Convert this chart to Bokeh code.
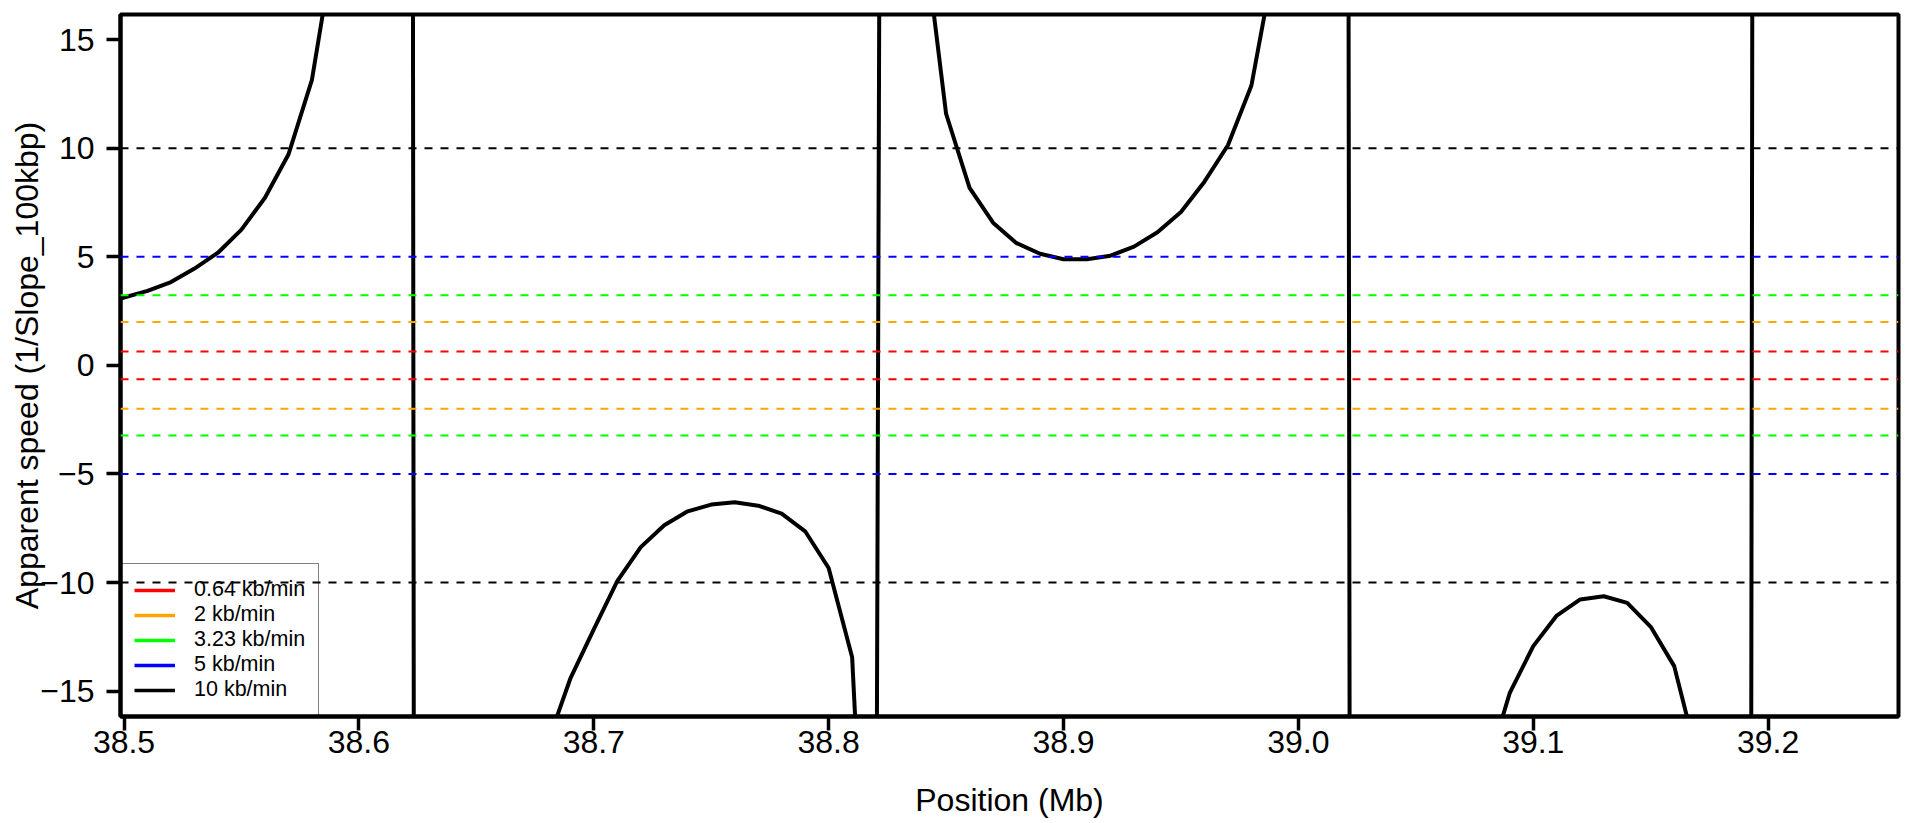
import math
from bokeh.plotting import figure
from bokeh.models import Span, FixedTicker, Range1d
from bokeh.embed import file_html
from bokeh.resources import INLINE

# ---- data ----
position_mb = [38.4985, 38.51, 38.52, 38.53, 38.54, 38.55, 38.56, 38.57, 38.58, 38.59,
               38.60, 38.61, 38.62, 38.63, 38.64, 38.65, 38.66, 38.67, 38.68, 38.69,
               38.70, 38.71, 38.72, 38.73, 38.74, 38.75, 38.76, 38.77, 38.78, 38.79,
               38.80, 38.81, 38.82, 38.83, 38.84, 38.85, 38.86, 38.87, 38.88, 38.89,
               38.90, 38.91, 38.92, 38.93, 38.94, 38.95, 38.96, 38.97, 38.98, 38.99,
               39.00, 39.01, 39.02, 39.03, 39.04, 39.05, 39.06, 39.07, 39.08, 39.09,
               39.10, 39.11, 39.12, 39.13, 39.14, 39.15, 39.16, 39.17, 39.18, 39.19,
               39.20, 39.21, 39.22, 39.23, 39.24, 39.25]
apparent_speed = [3.08, 3.43, 3.84, 4.46, 5.19, 6.25, 7.72, 9.71, 13.15, 19.7,
                  35.0, 90.0, 300.0, -640.0, -150.0, -70.0, -40.0, -24.0, -17.5, -14.43,
                  -12.16, -9.94, -8.37, -7.36, -6.72, -6.41, -6.30, -6.46, -6.83, -7.64,
                  -9.33, -13.44, -35.0, 300.0, 20.4, 11.59, 8.18, 6.57, 5.63, 5.14,
                  4.89, 4.89, 5.05, 5.47, 6.13, 7.06, 8.46, 10.14, 12.89, 18.73,
                  30.0, 60.0, 120.0, -640.0, -120.0, -60.0, -38.0, -26.0, -18.68, -15.08,
                  -12.93, -11.52, -10.78, -10.63, -10.94, -12.04, -13.85, -18.13, -60.0, -230.0,
                  530.0, 120.0, 60.0, 40.0, 30.0, 25.0]

speed_levels = [0.64, 2, 3.23, 5, 10]
level_colors = ["#FF0000", "#FFA500", "#00FF00", "#0000FF", "#000000"]
level_labels = ["0.64 kb/min", "2 kb/min", "3.23 kb/min", "5 kb/min", "10 kb/min"]

x_ticks = [38.5, 38.6, 38.7, 38.8, 38.9, 39.0, 39.1, 39.2]
x_tick_labels = ["38.5", "38.6", "38.7", "38.8", "38.9", "39.0", "39.1", "39.2"]
y_ticks = [-15, -10, -5, 0, 5, 10, 15]
y_tick_labels = ["\u221215", "\u221210", "\u22125", "0", "5", "10", "15"]

x_limits = (38.4985, 39.2555)
y_limits = (-16.17, 16.16)

FONT = "Liberation Sans"

p = figure(width=1910, height=823, output_backend="svg", toolbar_location=None,
           x_range=Range1d(*x_limits), y_range=Range1d(*y_limits),
           min_border_left=120, min_border_right=12, min_border_top=14,
           min_border_bottom=107)
p.background_fill_color = "white"
p.border_fill_color = "white"
p.outline_line_color = "black"
p.outline_line_width = 4
p.xgrid.visible = False
p.ygrid.visible = False

# dashed reference levels (positive and negative)
for v, c in zip(speed_levels, level_colors):
    for s in (1, -1):
        p.add_layout(Span(location=s * v, dimension="width", line_color=c,
                          line_width=2, line_dash="8 8"))

# curve
p.line(position_mb, apparent_speed, line_color="black", line_width=4)

# legend entries (solid lines)
for c, lab in zip(level_colors, level_labels):
    p.line([math.nan], [math.nan], line_color=c, line_width=3.5, legend_label=lab)

lg = p.legend[0]
lg.location = "bottom_left"
lg.margin = 0
lg.padding = 13
lg.spacing = 0
lg.glyph_width = 41
lg.glyph_height = 20
lg.label_height = 20
lg.label_standoff = 19
lg.label_text_font = FONT
lg.label_text_font_size = "21.5px"
lg.label_text_color = "black"
lg.background_fill_alpha = 0
lg.border_line_color = "black"
lg.border_line_width = 1.5

for ax in (p.xaxis[0], p.yaxis[0]):
    ax.major_tick_in = 0
    ax.major_tick_out = 14
    ax.major_tick_line_width = 3.5
    ax.major_tick_line_color = "black"
    ax.minor_tick_line_color = None
    ax.axis_line_width = 4
    ax.axis_line_color = "black"
    ax.major_label_text_font = FONT
    ax.major_label_text_font_size = "32px"
    ax.major_label_text_color = "black"
    ax.axis_label_text_font = FONT
    ax.axis_label_text_font_size = "32px"
    ax.axis_label_text_font_style = "normal"
    ax.axis_label_text_color = "black"

p.xaxis[0].ticker = FixedTicker(ticks=x_ticks)
p.xaxis[0].major_label_overrides = dict(zip(x_ticks, x_tick_labels))
p.xaxis[0].major_label_standoff = 0
p.xaxis[0].axis_label = "Position (Mb)"
p.xaxis[0].axis_label_standoff = 26

p.yaxis[0].ticker = FixedTicker(ticks=y_ticks)
p.yaxis[0].major_label_overrides = dict(zip(y_ticks, y_tick_labels))
p.yaxis[0].major_label_orientation = "horizontal"
p.yaxis[0].major_label_standoff = 12
p.yaxis[0].axis_label = "Apparent speed (1/Slope_100kbp)"
p.yaxis[0].axis_label_standoff = -8

open("out.html", "w").write(file_html(p, INLINE))
